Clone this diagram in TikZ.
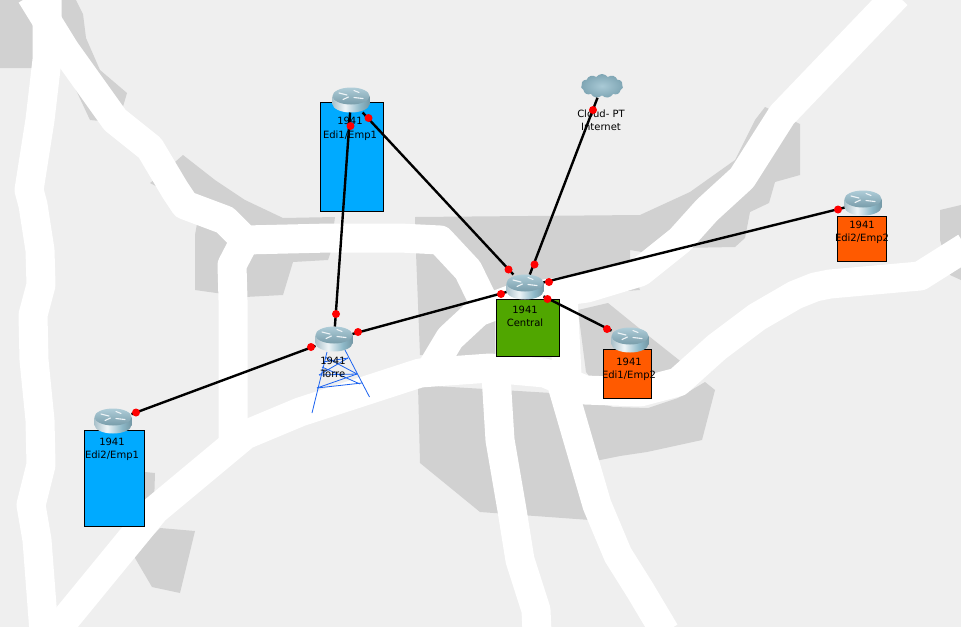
\documentclass[tikz,border=0pt]{standalone}
\usepackage{fontspec}
\setmainfont{DejaVu Sans}
\usetikzlibrary{shapes.symbols}

\definecolor{mapback}{HTML}{EFEFEF}
\definecolor{mapblock}{HTML}{D1D1D1}
\definecolor{empblue}{HTML}{00AAFF}
\definecolor{empgreen}{HTML}{50A600}
\definecolor{emporange}{HTML}{FF5A00}
\definecolor{towerblue}{HTML}{1A62F0}
\definecolor{routertop}{HTML}{8DB8C8}

\pgfdeclarehorizontalshading{routerside}{100bp}{
        color(0bp)=(routertop!70!black); color(12bp)=(routertop!85!black);
        color(42bp)=(white!85!routertop); color(62bp)=(routertop);
        color(88bp)=(routertop!65!black); color(100bp)=(routertop!55!black)}

\tikzset{routerart/.pic={
        \shade[shading=routerside] (0,4) ellipse (18.5 and 8.5);
        \shade[shading=routerside] (-18.5,-4) rectangle (18.5,4);
        \shade[top color=routertop!70!white,bottom color=routertop!85!black] (0,-4) ellipse (18.5 and 8.5);
        \draw[white!85!routertop,line width=1.1pt,line cap=round] (-12,-7) -- (-4,-5) (3,-9.5) -- (8,-7.5) (-8,-0.5) -- (-2.5,-3) (3,-2.5) -- (12,-1.5);
}}

\begin{document}
\begin{tikzpicture}[x=1pt,y=-1pt]
        \tikzstyle{block}=[fill=mapblock]
        \tikzstyle{road}=[draw=white,line width=29pt,line join=round]
        \tikzstyle{devbox}=[draw=black,line width=1pt,inner sep=0pt,outer sep=0pt]
        \tikzstyle{devlabel}=[align=center,inner sep=0pt,text=black,font=\fontsize{10}{13.5}\selectfont]
        \tikzstyle{link}=[draw=black,line width=2.4pt]
        \tikzstyle{lamp}=[circle,fill=red,inner sep=0pt,minimum size=8pt]
        \tikzstyle{tower}=[draw=towerblue,line width=0.8pt]
        \tikzstyle{netcloud}=[cloud,cloud puffs=11,cloud puff arc=110,aspect=1.75,inner sep=0pt,minimum width=42pt,minimum height=24pt,inner color=routertop!75!white,outer color=routertop!90!black]
        \tikzstyle{router}=[rectangle,inner sep=0pt,outer sep=0pt,minimum width=37pt,minimum height=25pt]

        \useasboundingbox (0,0) rectangle (961,627);
        \fill[mapback] (0,0) rectangle (961,627);

        \fill[block] (0,0) -- (76,0) -- (83,14) -- (86,38) -- (100,70) -- (127,93) -- (122,110) -- (100,121) -- (90,120) -- (62,60) -- (60,68) -- (0,68) -- cycle;
        \fill[block] (183,155) -- (215,180) -- (245,200) -- (283,218) -- (335,217) -- (333,232) -- (230,240) -- (200,210) -- (167,192) -- (150,183) -- (158,177) -- cycle;
        \fill[block] (198,218) -- (195,235) -- (195,290) -- (245,297) -- (283,295) -- (293,262) -- (328,260) -- (333,245) -- (260,240) -- (240,225) -- cycle;
        \fill[block] (415,217) -- (640,215) -- (690,192) -- (735,160) -- (755,120) -- (765,107) -- (800,124) -- (800,175) -- (775,182) -- (769,203) -- (750,212) -- (745,238) -- (735,247) -- (680,248) -- (650,254) -- (642,252) -- (630,250) -- (630,262) -- (640,290) -- (495,300) -- (495,360) -- (420,355) -- (416,253) -- cycle;
        \fill[block] (578,310) -- (608,303) -- (650,337) -- (684,364) -- (660,385) -- (600,390) -- (586,372) -- cycle;
        \fill[block] (418,385) -- (420,463) -- (480,512) -- (590,520) -- (585,395) -- cycle;
        \fill[block] (575,395) -- (613,407) -- (648,408) -- (678,398) -- (705,382) -- (715,390) -- (702,440) -- (647,452) -- (620,456) -- (590,462) -- cycle;
        \fill[block] (940,210) -- (961,205) -- (961,280) -- (950,275) -- (940,240) -- cycle;
        \fill[block] (125,470) -- (155,473) -- (154,505) -- (125,520) -- cycle;
        \fill[block] (160,528) -- (195,531) -- (180,593) -- (152,587) -- (135,558) -- (135,553) -- cycle;

        \draw[road] (47,-5) -- (47,60) -- (40,120) -- (29,190) -- (33,205) -- (40,250) -- (41,285) -- (33,315) -- (34,360) -- (40,420) -- (41,465) -- (31,505) -- (37,540) -- (44,632);
        \draw[road] (31,-5) -- (65,50) -- (115,120) -- (150,148) -- (175,190) -- (185,205) -- (225,220) -- (245,240) -- (330,238) -- (400,238) -- (440,240) -- (468,270) -- (490,315);
        \draw[road] (245,240) -- (232,265) -- (233,300) -- (233,440);
        \draw[road] (55,632) -- (155,510) -- (245,435) -- (300,412) -- (420,373) -- (490,368) -- (545,373) -- (585,390) -- (640,392) -- (678,382) -- (717,347) -- (757,317) -- (795,295) -- (815,287) -- (830,284) -- (920,276) -- (966,247);
        \draw[road] (496,375) -- (500,440) -- (512,510) -- (520,560) -- (536,610) -- (537,632);
        \draw[road] (562,385) -- (578,440) -- (597,505) -- (618,555) -- (640,590) -- (665,632);
        \draw[road] (432,368) -- (450,338) -- (478,312) -- (515,298) -- (587,288) -- (640,272) -- (680,240) -- (707,210) -- (742,178) -- (782,115) -- (897,-5);
        \draw[road] (563,295) -- (567,375);

        \node[devbox,fill=empblue,minimum width=63pt,minimum height=109pt] (boxedi1emp1) at (351.5,156.5) {};
        \node[devbox,fill=empgreen,minimum width=63pt,minimum height=57pt] (boxcentral) at (527.5,327.5) {};
        \node[devbox,fill=emporange,minimum width=48pt,minimum height=49pt] (boxedi1emp2) at (627,373.5) {};
        \node[devbox,fill=empblue,minimum width=60pt,minimum height=96pt] (boxedi2emp1) at (114,478) {};
        \node[devbox,fill=emporange,minimum width=49pt,minimum height=45pt] (boxedi2emp2) at (861.5,238.5) {};

        \draw[tower] (327,352) -- (312,413) (345,350) -- (369.5,397);
        \draw[tower] (323,362) -- (348,358) (319,375) -- (357,374) (317,388) -- (362,383);
        \draw[tower] (325,357) -- (357,374) (322,367) -- (360,384) (319,375) -- (348,358) (317,388) -- (357,374);

        \node[devlabel] (txtedi1emp1) at (350,129) {1941\\Edi1/Emp1};
        \node[devlabel] (txtcentral) at (525,316.5) {1941\\Central};
        \node[devlabel] (txttorre) at (333,367.5) {1941\\Torre};
        \node[devlabel] (txtedi1emp2) at (629,369.5) {1941\\Edi1/Emp2};
        \node[devlabel] (txtedi2emp1) at (112,449.5) {1941\\Edi2/Emp1};
        \node[devlabel] (txtedi2emp2) at (862,232.5) {1941\\Edi2/Emp2};
        \node[devlabel] (txtinternet) at (601,120.5) {Cloud- PT\\Internet};

        \node[router] (edi1emp1) at (351,100) {};
        \node[router] (central) at (525,287) {};
        \node[router] (torre) at (334,339) {};
        \node[router] (edi1emp2) at (630,340) {};
        \node[router] (edi2emp1) at (113,421) {};
        \node[router] (edi2emp2) at (863,203) {};
        \node[netcloud] (internet) at (602,86) {};

        \foreach \r in {edi1emp1,central,torre,edi1emp2,edi2emp1,edi2emp2}
                \pic at (\r) {routerart};

        \draw[link] (edi1emp1) -- (torre);
        \draw[link] (edi1emp1) -- (central);
        \draw[link] (internet) -- (central);
        \draw[link] (central) -- (edi2emp2);
        \draw[link] (central) -- (torre);
        \draw[link] (central) -- (edi1emp2);
        \draw[link] (torre) -- (edi2emp1);

        \node[lamp] (lampa) at (350.5,126) {};
        \node[lamp] (lampb) at (336,314) {};
        \node[lamp] (lampc) at (368.5,118) {};
        \node[lamp] (lampd) at (508.5,269.5) {};
        \node[lamp] (lampe) at (593,110) {};
        \node[lamp] (lampf) at (534.5,264.5) {};
        \node[lamp] (lampg) at (549,282) {};
        \node[lamp] (lamph) at (838,209.5) {};
        \node[lamp] (lampi) at (501,294) {};
        \node[lamp] (lampj) at (358,332) {};
        \node[lamp] (lampk) at (547.5,299) {};
        \node[lamp] (lampl) at (607,329) {};
        \node[lamp] (lampm) at (311,347) {};
        \node[lamp] (lampn) at (136,412.5) {};
\end{tikzpicture}
\end{document}
